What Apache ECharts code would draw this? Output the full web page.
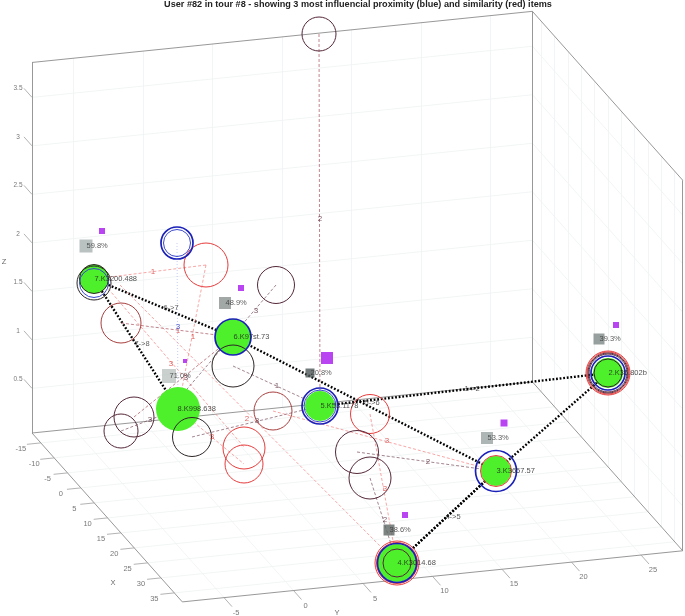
<!DOCTYPE html>
<html>
<head>
<meta charset="utf-8">
<style>html,body{margin:0;padding:0;background:#fff}#c{width:685px;height:616px}</style>
<script src="https://cdn.jsdelivr.net/npm/echarts@6/dist/echarts.min.js"></script>
</head>
<body>
<div id="c"></div>
<script>
// ---- axis tick labels (data units of the original 3D axes)
const xTicks = [-15,-10,-5,0,5,10,15,20,25,30,35];
const yTicks = [-5,0,5,10,15,20,25];
const zTicks = [0.5,1,1.5,2,2.5,3,3.5];
const xRange = [-18.3,38], yRange = [-8,28], zRange = [0.04,3.86];
const titleText = 'User #82 in tour #8 - showing 3 most influencial proximity (blue) and similarity (red) items';

// ---- items: [across, down, radius]
const tourItems = [[320,406,15],[608,373,15],[496,471,15],[233,337,18],[94,279,14.5],[178,409,22]];
const tourItemsOver = [[397,563,19]];
const tourPath = [[320,406],[608,373],[496,471],[397,563],[496,471],[233,337],[94,279],[178,409]];
const tourPathLabels = [['1->2',472,389],['4->5',453,517],['5->6',372,403],['6->7',171,308],['7->8',142,344]];
const itemNames = [['7.K3200.488',94,279],['6.K97st.73',233,337],['8.K998.638',177,409],['5.K53.1178',320,406],['3.K3657.57',496,471],['4.K3014.68',397,563],['2.K36.802b',608,373]];

const blueRings = [[233,337,18],[320,406,18],[496,471,20.5],[177,243,16],[397,563,19.5],[608,373,17]];
const paleBlueRings = [[177,243,13.5],[320,406,16],[94,283,14.5]];
const redRings = [[206,265,22],[244,448,21],[244,464,19],[370,414,19.5],[496,471,15.5],[397,563,22],[397,563,20.5],[608,373,22],[608,373,21]];
const maroonRings = [[121,323,20],[273,411,19]];
const plumRings = [[276,285,18.5],[134,417,20],[121,431,17],[357,452,21.5],[370,478,21],[319,34,17],[397,563,14],[608,373,20],[608,373,19]];
const blackRings = [[233,366,21],[192,437,19.5],[94,283,17],[94,279,14.5],[608,373,14]];

const shareBoxes = [[86,246,13,'59.8%'],[225,303,12,'48.9%'],[169,376,14,'71.0%'],[310,373,9,'20.8%'],[487,438,12,'53.3%'],[389,530,11,'38.6%'],[599,339,11,'39.3%']];
const shareShades = ['#a9b3b2','#89928f','#bcc4c2','#4f5958','#9aa4a2','#5c6664','#7d8886'];
const purpleSquares = [[102,231,6],[241,288,6],[185,361,4],[327,358,12],[504,423,7],[405,515,6],[616,325,6]];

// influence links: [fromAcross, fromDown, toAcross, toDown]
const redLinks = [[206,265,94,279],[206,265,178,409],[105,285,244,447],[178,409,244,464],[120,285,397,563],[273,411,496,471],[370,414,397,563]];
const maroonLinks = [[121,323,233,337],[134,417,233,337],[319,34,320,406]];
const plumLinks = [[276,285,170,409],[233,366,320,406],[192,437,320,406],[121,431,178,409],[357,452,496,471],[370,478,397,563]];
const blueLinks = [[177,243,178,409]];
const redLinkLabels = [['1',153,272],['1',193,337],['3',171,364],['3',212,437],['2',247,419],['3',387,441],['3',385,489],['1',178,331]];
const darkLinkLabels = [['2',320,219],['3',256,311],['3',186,378],['1',277,386],['3',257,421],['3',150,420],['2',428,462],['2',385,520]];
const blueLinkLabels = [['3',178,327]];

// ---- projection of the 3D axes onto the page
function P(X,Y,Z){
  const a = X-xRange[0], b = Y-yRange[0], c = Z-zRange[0];
  return [32 + a*2.67 + b*13.9, 433 + a*3.0 - b*1.42 - c*97];
}
const [x0,x1]=xRange,[y0,y1]=yRange,[z0,z1]=zRange;
const gridSegs = [];
xTicks.forEach(x=>{ gridSegs.push([P(x,y0,z0),P(x,y1,z0)]); gridSegs.push([P(x,y1,z0),P(x,y1,z1)]); });
yTicks.forEach(y=>{ gridSegs.push([P(x0,y,z0),P(x1,y,z0)]); gridSegs.push([P(x0,y,z0),P(x0,y,z1)]); });
zTicks.forEach(z=>{ gridSegs.push([P(x0,y0,z),P(x0,y1,z)]); gridSegs.push([P(x0,y1,z),P(x1,y1,z)]); });
const boxSegs = [
 [P(x0,y0,z1),P(x0,y1,z1)],[P(x0,y1,z1),P(x1,y1,z1)],[P(x1,y1,z1),P(x1,y1,z0)],
 [P(x0,y0,z1),P(x0,y0,z0)],[P(x0,y0,z0),P(x1,y0,z0)],[P(x1,y0,z0),P(x1,y1,z0)],
 [P(x0,y0,z0),P(x0,y1,z0)],[P(x0,y1,z0),P(x1,y1,z0)],[P(x0,y1,z0),P(x0,y1,z1)]
];
const tickSegs = [];
xTicks.forEach(x=>tickSegs.push([P(x,y0,z0),P(x,y0-1,z0)]));
yTicks.forEach(y=>tickSegs.push([P(x1,y,z0),P(x1+3,y,z0)]));
zTicks.forEach(z=>tickSegs.push([P(x0,y0,z),P(x0-3,y0,z)]));

function segLines(segs,color,width,type,opacity){
  return {type:'lines',coordinateSystem:'cartesian2d',polyline:false,silent:true,
    data:segs.map(s=>({coords:s})),
    lineStyle:{color,width,type:type||'solid',opacity:opacity==null?1:opacity,curveness:0}};
}
function linkLines(links,color,width,type,opacity){
  return segLines(links.map(l=>[[l[0],l[1]],[l[2],l[3]]]),color,width,type,opacity);
}
function discs(items,color){
  return {type:'scatter',silent:true,data:items.map(d=>[d[0],d[1],d[2]]),
    symbolSize:v=>v[2]*2,itemStyle:{color,opacity:1}};
}
function rings(items,color,width){
  return {type:'scatter',silent:true,data:items.map(d=>[d[0],d[1],d[2]]),
    symbolSize:v=>v[2]*2,itemStyle:{color:'transparent',borderColor:color,borderWidth:width,opacity:1}};
}
function labels(rows,color,size,pos,extra){
  return {type:'scatter',silent:true,symbolSize:1,itemStyle:{color:'transparent'},
    data:rows.map(r=>({value:[r[1],r[2]],name:String(r[0])})),
    label:Object.assign({show:true,formatter:p=>p.name,color,fontSize:size,
      fontFamily:'Liberation Sans',position:pos||'inside',distance:0},extra||{}),
    labelLayout:{hideOverlap:false}};
}
const xLabelRows = xTicks.map(x=>{const p=P(x,y0,z0);return [x,p[0]-20,p[1]+6];});
const yLabelRows = yTicks.map(y=>{const p=P(x1,y,z0);return [y,p[0]+12,p[1]+15];});
const zLabelRows = zTicks.map(z=>{const p=P(x0,y0,z);return [z,p[0]-14,p[1]-9];});

const option = {
  animation:false,
  backgroundColor:'#fff',
  title:{text:titleText,left:358,textAlign:'center',top:0,padding:0,
    textStyle:{fontSize:9.15,fontWeight:'bold',color:'#222',fontFamily:'Liberation Sans'}},
  grid:{left:0,right:0,top:0,bottom:0},
  xAxis:{type:'value',min:0,max:685,show:false},
  yAxis:{type:'value',min:0,max:616,inverse:true,show:false},
  series:[
    segLines(gridSegs,'#eff2f2',0.8),
    segLines(boxSegs,'#8c8c8c',0.9),
    segLines(tickSegs,'#a0a0a0',0.8),
    discs(tourItems,'#4df02a'),
    segLines(tourPath.slice(1).map((p,i)=>[tourPath[i],p]),'#000',2.4,[1.8,1.8]),
    discs(tourItemsOver,'#4df02a'),
    linkLines(redLinks,'#f58080',0.7,[3,2]),
    linkLines(maroonLinks,'#a8505c',0.7,[3,2]),
    linkLines(plumLinks,'#7a5060',0.7,[3,2]),
    linkLines(blueLinks,'#aab6ee',0.7,[1,2]),
    {type:'scatter',silent:true,symbol:'rect',
      data:shareBoxes.map((d,i)=>({value:[d[0],d[1],d[2]],itemStyle:{color:shareShades[i]}})),
      symbolSize:v=>v[2]},
    {type:'scatter',silent:true,symbol:'rect',data:purpleSquares,
      symbolSize:v=>v[2],itemStyle:{color:'#b945f2',opacity:1}},
    rings(redRings,'#e63c3c',1),
    rings(maroonRings,'#a8403f',1),
    rings(plumRings,'#55283a',1),
    rings(blackRings,'#2e2626',1),
    rings(paleBlueRings,'#3a48d0',1),
    rings(blueRings,'#1a20b8',1.7),
    labels(shareBoxes.map(d=>[d[3],d[0],d[1]]),'#333',7.5,'right'),
    labels(itemNames,'#222',7.5,'right'),
    labels(tourPathLabels,'#333',7.5),
    labels(redLinkLabels,'#d83a3a',8),
    labels(darkLinkLabels,'#5a3040',8),
    labels(blueLinkLabels,'#2030c8',8),
    labels(xLabelRows,'#555',7.5),
    labels(yLabelRows,'#555',7.5),
    labels(zLabelRows,'#555',6.5),
    labels([['X',113,583],['Y',337,613],['Z',4,262]],'#444',7.5)
  ]
};
const chart = echarts.init(document.getElementById('c'),null,{renderer:'canvas'});
chart.setOption(option);
</script>
</body>
</html>
